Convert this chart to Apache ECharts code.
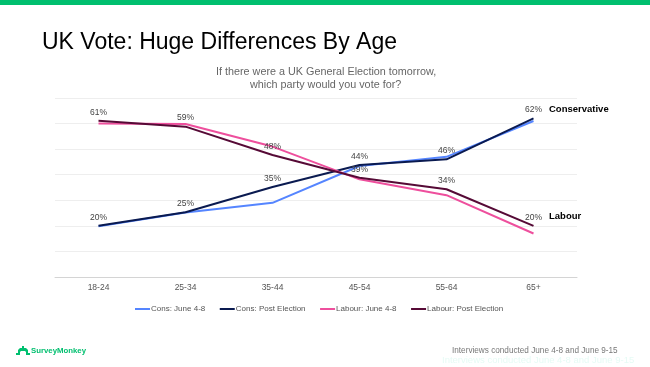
<!DOCTYPE html>
<html><head><meta charset="utf-8">
<style>html,body{margin:0;padding:0;background:#fff}#c{width:650px;height:367px}</style>
<script src="https://cdn.jsdelivr.net/npm/echarts@6/dist/echarts.min.js"></script>
</head><body><div id="c"></div>
<script>
const categories = ['18-24','25-34','35-44','45-54','55-64','65+'];
const consJune = [19.8,25.2,29,43.4,47,61];
const consPost = [20,25.3,35.2,43.8,46,62];
const labourJune = [60,59.8,51,38.2,32,17];
const labourPost = [61.1,58.8,47.7,38.8,34.3,20];
const consLabels = ['20%','25%','35%','44%','46%','62%'];
const labourLabels = ['61%','59%','48%','39%','34%','20%'];
const names = ['Cons: June 4-8','Cons: Post Election','Labour: June 4-8','Labour: Post Election'];
const font = '"Liberation Sans", Arial, sans-serif';
function line(name,data,color,labels){
  const s={name,type:'line',data,symbol:'circle',symbolSize:0,showSymbol:true,showAllSymbol:true,smooth:false,lineStyle:{color,width:2},itemStyle:{color},z:3,
    emphasis:{disabled:true}};
  if(labels){s.label={show:true,position:'top',distance:4,fontFamily:font,fontSize:8.5,color:'#444',
    formatter:p=>labels[p.dataIndex]};}
  return s;
}
const chart=echarts.init(document.getElementById('c'),null,{renderer:'canvas'});
chart.setOption({
  animation:false,backgroundColor:'#fff',
  grid:{left:55,right:73,top:98,height:179},
  xAxis:{type:'category',data:categories,boundaryGap:true,
    axisLine:{lineStyle:{color:'#d4d4d4',width:1}},axisTick:{show:false},
    axisLabel:{fontFamily:font,fontSize:8.5,color:'#555',margin:6}},
  yAxis:{type:'value',min:0,max:70,interval:10,axisLine:{show:false},axisTick:{show:false},axisLabel:{show:false},
    splitLine:{lineStyle:{color:'#eeeeee',width:1}}},
  legend:{show:true,top:300,left:130,itemWidth:15,itemHeight:2,itemGap:14.5,icon:'rect',
    textStyle:{fontFamily:font,fontSize:8,color:'#555',padding:[0,0,0,-4]},data:names},
  series:[
    line(names[0],consJune,'#5585ff'),
    line(names[1],consPost,'#0a1a50',consLabels),
    line(names[2],labourJune,'#ee4f9d'),
    line(names[3],labourPost,'#560a36',labourLabels)
  ],
  graphic:[
    {type:'rect',left:0,top:0,shape:{width:650,height:5},style:{fill:'#00bf6f'}},
    {type:'text',left:42,top:31,style:{text:'UK Vote: Huge Differences By Age',fontFamily:font,fontSize:23,fill:'#000'}},
    {type:'text',left:216,top:67,style:{text:'If there were a UK General Election tomorrow,',fontFamily:font,fontSize:10.8,fill:'#666'}},
    {type:'text',left:250,top:80,style:{text:'which party would you vote for?',fontFamily:font,fontSize:10.8,fill:'#666'}},
    {type:'text',left:549,top:104,style:{text:'Conservative',fontFamily:font,fontSize:9.5,fontWeight:'bold',fill:'#000'}},
    {type:'text',left:549,top:211,style:{text:'Labour',fontFamily:font,fontSize:9.5,fontWeight:'bold',fill:'#000'}},
    {type:'text',left:31,top:347,style:{text:'SurveyMonkey',fontFamily:font,fontSize:7.8,fontWeight:'bold',fill:'#00bf6f'}},
    {type:'polygon',left:16,top:346,shape:{points:[[0,7],[2,7],[2,4],[4,2],[6,2],[6,0],[8,0],[8,2],[10,2],[12,4],[12,7],[14,7],[14,9],[10,9],[10,6],[9,5],[5,5],[4,6],[4,9],[0,9]]},style:{fill:'#00bf6f'}},
    {type:'text',left:452,top:347,style:{text:'Interviews conducted June 4-8 and June 9-15',fontFamily:font,fontSize:8.2,fill:'#777'}},
    {type:'text',left:442,top:355,style:{text:'Interviews conducted June 4-8 and June 9-15',fontFamily:font,fontSize:9.5,fill:'#e6fbf5'}}
  ]
});
</script></body></html>
